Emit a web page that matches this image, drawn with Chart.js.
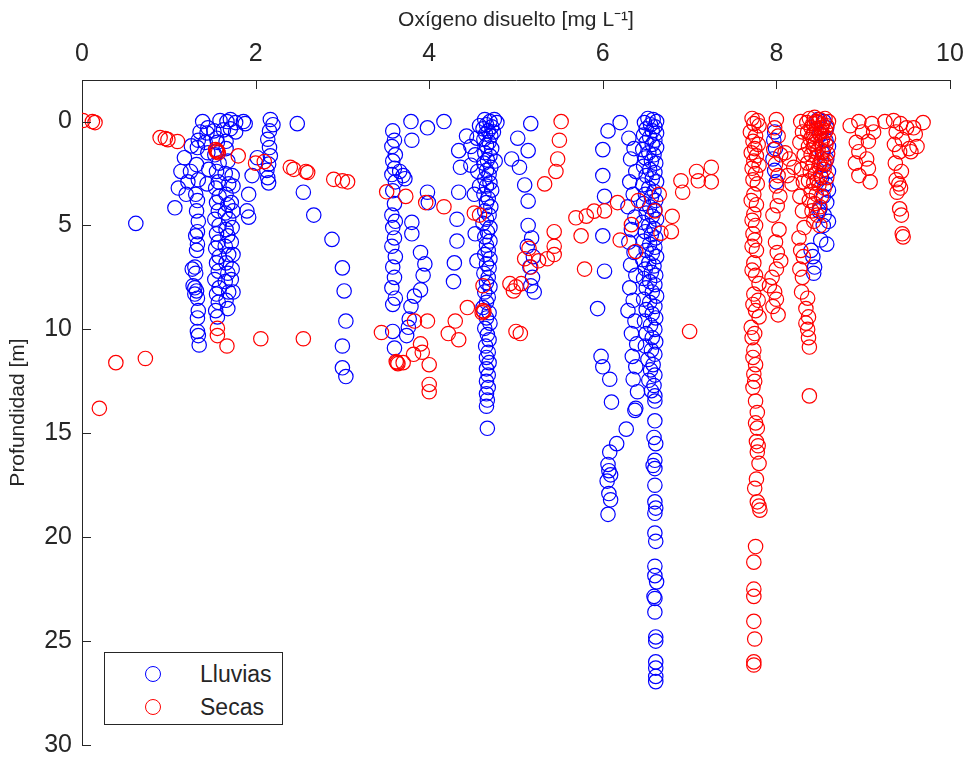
<!DOCTYPE html>
<html><head><meta charset="utf-8">
<script src="https://cdn.jsdelivr.net/npm/chart.js@4.4.1/dist/chart.umd.min.js"></script>
<style>
html,body{margin:0;padding:0;background:#fff;}
#wrap{position:relative;width:969px;height:761px;}
#legend{position:absolute;left:104px;top:652px;width:177px;height:71px;border:1px solid #262626;background:#fff;font-family:"Liberation Sans",Arial,sans-serif;font-size:23px;color:#262626;}
.item{position:absolute;left:0;width:177px;height:30px;}
.mk{position:absolute;left:40px;top:7px;width:14px;height:14px;border-radius:50%;border:1.3px solid;}
.lb{position:absolute;left:95px;top:2px;white-space:nowrap;line-height:26px;}
</style></head>
<body>
<div id="wrap">
<canvas id="c" width="969" height="761"></canvas>
<div id="legend">
 <div class="item" style="top:6px"><span class="mk" style="border-color:#0000ff"></span><span class="lb">Lluvias</span></div>
 <div class="item" style="top:39px"><span class="mk" style="border-color:#ff0000"></span><span class="lb">Secas</span></div>
</div>
</div>
<script>
const xTicks=[0,2,4,6,8,10];
const yTicks=[0,5,10,15,20,25,30];
const xTitle='Oxígeno disuelto [mg L⁻¹]';
const yTitle='Profundidad [m]';
const seriesNames=['Lluvias','Secas'];

// Lluvias (blue) [oxígeno, profundidad]
const lluviasGrupo1=[[0.62,4.9],[1.07,4.15],[1.11,3.2],[1.14,2.4],[1.18,1.74],[1.26,1.17],
[1.39,0.0],[1.45,0.3],[1.59,-0.05],[1.67,0.0],[1.71,-0.1],[1.77,0.05],[1.86,0.0],[1.88,0.1],
[1.36,0.5],[1.44,0.55],[1.52,0.45],[1.63,0.4],[1.71,0.35],[1.77,0.5],
[1.34,0.9],[1.42,1.0],[1.55,0.8],[1.66,0.95],[1.45,1.5],[1.46,2.3],[1.44,3.0],
[1.33,1.25],[1.32,2.07],[1.34,2.8],[1.31,3.5],[1.33,3.8],[1.32,4.3],[1.34,4.8],[1.33,5.3],[1.31,5.5],[1.33,5.9],[1.32,6.2],[1.30,7.0],[1.31,7.3],[1.30,8.0],[1.32,8.15],[1.33,8.5],[1.34,9.1],[1.33,9.45],[1.33,10.1],[1.34,10.3],[1.35,10.75],
[1.27,7.1],[1.28,7.9],[1.30,8.3],[1.22,2.9],[1.20,3.5],[1.25,2.4],
[1.56,1.0],[1.53,1.6],[1.58,2.0],[1.55,2.4],[1.57,2.9],[1.54,3.2],[1.58,3.6],[1.55,3.9],[1.57,4.3],[1.53,4.7],[1.58,5.0],[1.55,5.4],[1.57,5.8],[1.54,6.1],[1.58,6.5],[1.55,6.8],[1.57,7.2],[1.53,7.6],[1.58,8.0],[1.55,8.3],[1.57,8.7],[1.54,9.1],[1.56,9.4],
[1.66,1.3],[1.68,1.9],[1.65,2.5],[1.69,3.0],[1.66,3.5],[1.68,4.0],[1.65,4.4],[1.69,4.7],[1.66,5.2],[1.68,5.5],[1.65,6.0],[1.69,6.4],[1.66,6.8],[1.68,7.3],[1.65,7.7],[1.69,8.2],[1.66,8.6],[1.68,9.0],
[1.73,2.6],[1.74,3.1],[1.72,3.9],[1.74,4.3],[1.73,5.1],[1.72,5.8],[1.74,6.4],[1.73,7.1],[1.72,7.6],[1.74,8.2],
[2.17,-0.1],[2.20,0.15],[2.16,0.45],[2.14,0.85],[2.16,1.25],[2.17,1.65],[2.15,2.05],[2.13,2.35],[2.14,2.7],[2.15,2.95],
[2.02,1.74],[1.96,2.6],[1.92,3.5],[1.90,4.3],[1.92,4.6],[2.48,0.1],[2.55,3.4],[2.67,4.5],[2.88,5.67],[3.00,7.04],[3.02,8.15],[3.04,9.6],[3.00,10.8],[3.00,11.85],[3.04,12.27]];

const lluviasGrupo2=[[3.58,0.45],[3.60,0.9],[3.57,1.2],[3.61,1.6],[3.58,1.9],[3.60,2.25],[3.57,2.55],[3.61,2.9],[3.58,3.33],[3.60,3.95],[3.57,4.5],[3.61,4.8],[3.58,5.1],[3.60,5.6],[3.57,6.0],[3.61,6.5],[3.58,7.0],[3.60,7.5],[3.57,8.0],[3.61,8.5],[3.58,8.8],[3.58,10.1],[3.60,10.9],
[3.70,2.6],[3.66,2.4],[3.72,2.75],[3.79,0.0],[3.80,0.9],[3.98,0.3],[4.17,0.0],[3.98,3.4],[3.99,3.9],
[3.80,4.85],[3.80,5.4],[3.90,6.3],[3.95,6.85],[3.93,7.4],[3.90,8.1],[3.83,8.4],[3.79,8.9],[3.77,9.5],[3.76,9.9],[3.74,10.3],
[4.34,1.4],[4.36,2.2],[4.34,3.4],[4.32,4.7],[4.32,5.75],[4.29,6.8],[4.28,7.7],
[4.43,0.7],[4.48,1.2],[4.48,2.1],[4.52,3.5],[4.53,5.4],[4.55,6.7],
[4.64,-0.1],[4.70,0.0],[4.66,0.15],[4.72,0.25],[4.62,0.35],[4.68,0.45],[4.65,0.6],[4.71,0.7],[4.63,0.85],[4.69,1.0],[4.66,1.15],[4.72,1.3],[4.64,1.5],[4.70,1.65],[4.67,1.85],[4.63,2.0],[4.71,2.2],[4.66,2.35],[4.69,2.55],[4.64,2.75],[4.70,2.95],[4.66,3.1],[4.72,3.3],[4.63,3.5],[4.68,3.7],[4.66,3.9],[4.71,4.1],[4.64,4.3],[4.69,4.5],[4.66,4.7],[4.62,4.9],[4.70,5.1],[4.67,5.3],[4.64,5.55],[4.70,5.75],[4.66,5.95],[4.68,6.2],[4.64,6.4],[4.70,6.6],[4.66,6.85],[4.69,7.05],[4.63,7.3],[4.68,7.5],[4.66,7.75],[4.70,7.95],[4.64,8.2],[4.68,8.45],[4.66,8.7],[4.62,8.95],[4.69,9.2],[4.66,9.45],[4.70,9.7],[4.64,9.95],[4.67,10.25],[4.69,10.5],[4.65,10.8],[4.68,11.1],[4.66,11.35],[4.69,11.6],[4.66,11.9],[4.68,12.2],[4.66,12.5],[4.68,12.8],[4.66,13.1],[4.67,13.4],[4.66,13.7],[4.67,14.76],
[4.58,0.2],[4.75,-0.1],[4.78,0.05],[4.55,0.8],[4.53,1.6],[4.56,2.4],[4.58,3.1],[4.74,0.5],[4.76,1.9],
[5.02,0.8],[5.17,0.1],[5.14,1.4],[4.95,1.8],[5.04,2.2],[5.10,3.05],[5.14,3.83],[5.14,5.0],[5.13,6.0],[5.16,7.0],[5.17,7.9],[5.18,5.6],[5.20,6.5],[5.19,7.5],[5.21,8.2]];

const lluviasGrupo3=[[6.20,0.05],[6.06,0.45],[6.00,1.35],[6.00,2.6],[6.02,3.6],[6.00,5.5],[6.02,7.2],[5.94,9.0],[5.98,11.3],[6.00,11.8],[6.08,12.4],[6.10,13.5],[6.27,14.8],
[6.38,13.8],[6.37,13.9],[6.16,15.5],[6.08,15.9],[6.06,16.5],[6.07,16.8],[6.09,17.0],[6.05,17.3],[6.07,17.9],[6.09,18.2],[6.06,18.9],
[6.30,0.8],[6.36,1.3],[6.32,1.8],[6.38,2.4],[6.31,2.9],[6.35,3.5],[6.29,4.1],[6.37,4.6],[6.33,5.2],[6.30,5.8],[6.36,6.3],[6.32,6.9],[6.38,7.4],[6.31,8.0],[6.35,8.6],[6.29,9.1],[6.37,9.6],[6.33,10.2],[6.39,10.7],[6.34,11.3],[6.38,11.8],[6.35,12.4],[6.40,13.0],
[6.52,-0.15],[6.58,-0.1],[6.62,0.0],[6.48,0.05],[6.55,0.15],[6.60,0.25],[6.50,0.35],[6.57,0.45],[6.62,0.55],[6.47,0.65],[6.54,0.75],[6.60,0.9],[6.50,1.0],[6.57,1.1],[6.62,1.25],[6.46,1.35],[6.53,1.5],[6.59,1.6],[6.49,1.75],[6.56,1.9],[6.61,2.0],[6.47,2.15],[6.54,2.3],[6.60,2.45],[6.50,2.6],[6.57,2.75],[6.62,2.9],[6.46,3.05],[6.53,3.2],[6.59,3.35],[6.49,3.5],[6.56,3.65],[6.61,3.8],[6.47,3.95],[6.54,4.1],[6.60,4.25],[6.50,4.4],[6.57,4.55],[6.62,4.7],[6.46,4.85],[6.53,5.0],[6.59,5.15],[6.49,5.3],[6.56,5.45],[6.61,5.6],[6.47,5.75],[6.54,5.9],[6.60,6.05],[6.50,6.2],[6.57,6.35],[6.62,6.5],[6.46,6.65],[6.53,6.8],[6.59,6.95],[6.49,7.1],[6.56,7.25],[6.61,7.4],[6.47,7.55],[6.54,7.7],[6.60,7.85],[6.50,8.0],[6.57,8.2],[6.62,8.4],[6.47,8.55],[6.54,8.7],[6.60,8.9],[6.50,9.05],[6.57,9.25],[6.61,9.45],[6.48,9.6],[6.55,9.8],[6.60,10.0],[6.50,10.2],[6.57,10.4],[6.61,10.6],[6.49,10.8],[6.56,11.0],[6.60,11.2],[6.52,11.45],[6.58,11.7],[6.55,11.95],[6.60,12.2],[6.53,12.45],[6.59,12.7],[6.56,12.95],[6.60,13.2],
[6.60,13.45],[6.60,14.4],[6.59,15.2],[6.61,15.5],[6.60,16.3],[6.58,16.55],[6.60,16.7],[6.60,17.5],[6.60,18.3],[6.61,18.6],[6.60,18.85],[6.60,19.8],[6.61,20.2],[6.60,21.4],[6.60,21.85],[6.62,22.15],[6.59,22.85],[6.60,22.95],[6.60,23.6],[6.61,24.8],[6.61,25.0],[6.61,26.0],[6.61,26.3],[6.61,26.7],[6.61,26.95]];

const lluviasGrupo4=[[7.98,0.5],[7.97,0.9],[7.99,1.3],[7.96,1.8],[7.98,2.35],[8.00,2.9],
[8.48,-0.1],[8.55,0.0],[8.58,0.3],[8.50,0.6],[8.57,0.9],[8.60,1.2],[8.53,1.5],[8.58,1.8],[8.55,2.1],[8.60,2.4],[8.52,2.7],[8.57,3.0],[8.60,3.3],[8.54,3.6],[8.58,3.9],[8.50,4.2],[8.55,4.5],[8.60,4.8],[8.49,4.3],[8.54,5.0],[8.51,5.7],[8.58,5.9],[8.40,6.2],[8.42,6.5],[8.44,7.0],[8.43,7.3]];

// Secas (red)
const secasGrupo1=[[0.01,-0.05],[0.12,0.0],[0.15,0.05],[0.90,0.77],[0.96,0.82],[0.99,0.87],[1.10,0.96],
[1.54,1.35],[1.56,1.4],[1.57,1.5],[1.55,1.45],[1.80,1.65],[2.10,1.93],[2.00,2.0],
[2.40,2.2],[2.44,2.3],[2.58,2.4],[2.60,2.45],[2.90,2.78],[3.00,2.85],[3.06,2.9],
[1.56,9.95],[1.56,10.3],[1.67,10.8],[2.06,10.45],[2.55,10.45],[0.39,11.6],[0.73,11.4],[0.20,13.8]];

const secasGrupo2=[[3.51,3.38],[3.73,3.6],[3.96,3.9],[4.17,4.1],[4.52,4.4],[4.58,4.5],
[3.45,10.15],[3.63,11.6],[3.64,11.65],[3.62,11.55],[3.83,9.6],[3.98,9.6],[4.30,9.6],[4.22,10.2],[4.34,10.5],[3.90,10.7],[3.82,11.2],[3.70,11.6],[3.92,11.1],[4.00,11.7],[4.00,12.65],[4.00,13.0],
[4.44,8.95],[4.62,9.1],[4.63,9.15],[4.61,9.2],[4.62,7.9],[5.00,10.1],[5.05,10.2],[4.93,7.8],[4.97,8.15],[5.00,7.95],[5.06,7.8],
[5.17,7.0],[5.26,6.7],[5.36,6.6],[5.44,6.4],[5.44,6.0],[5.44,5.3],[5.33,3.0],[5.46,2.4],[5.48,1.8],[5.50,0.9],[5.52,0.0],[5.15,6.1],[5.10,6.6]];

const secasGrupo3=[[5.69,4.63],[5.81,4.55],[5.90,4.31],[5.75,5.5],[5.79,7.1],[6.02,4.3],[6.17,3.9],[6.20,5.7],[6.33,4.96],[6.38,6.25],[6.41,3.8],[6.60,4.3],[6.65,3.5],[6.67,5.37],[6.79,5.3],[6.80,4.56],[6.90,2.85],[6.92,3.4],[7.08,2.4],[7.10,2.85],[7.25,2.2],[7.25,2.9],[7.00,10.1]];

const secasGrupo4=[[7.72,-0.15],[7.78,-0.05],[7.74,0.1],[7.80,0.2],[7.70,0.5],[7.76,0.7],[7.73,0.95],[7.79,1.1],[7.75,1.3],[7.71,1.5],[7.77,1.65],[7.74,1.9],[7.80,2.1],[7.72,2.25],[7.76,2.5],[7.73,2.8],[7.78,3.0],[7.74,3.5],[7.71,3.8],[7.77,4.0],[7.74,4.45],[7.72,4.75],[7.76,5.0],[7.73,5.4],[7.75,5.7],[7.72,6.0],[7.77,6.2],[7.74,6.8],[7.72,7.15],[7.76,7.4],[7.80,7.8],[7.74,8.3],[7.79,8.6],[7.73,8.8],[7.76,9.1],[7.80,9.4],[7.71,9.9],[7.75,10.2],[7.72,10.4],[7.74,11.0],[7.73,11.35],[7.76,11.7],[7.74,12.15],[7.75,12.5],[7.73,12.8],
[7.76,13.45],[7.78,14.0],[7.76,14.5],[7.78,14.75],[7.77,15.4],[7.79,15.6],[7.78,15.9],[7.80,16.45],[7.77,17.2],[7.75,17.65],[7.78,18.3],[7.80,18.5],[7.81,18.7],[7.76,20.45],[7.74,21.2],[7.74,22.5],[7.74,22.85],[7.74,24.05],[7.75,24.9],[7.74,26.0],[7.74,26.15],
[8.00,-0.1],[7.98,0.3],[8.02,0.7],[7.97,1.35],[8.05,1.6],[7.99,2.05],[8.02,2.6],[8.00,3.1],[8.04,3.6],[8.01,4.05],[7.96,4.5],[8.03,5.2],[7.99,5.8],[8.01,6.3],[8.05,6.7],[8.00,7.1],[7.95,7.5],[7.92,7.9],[7.98,8.2],[8.00,8.55],[7.96,8.9],[8.02,9.3]];

const secasGrupo5=[[8.15,1.8],[8.20,2.2],[8.13,2.6],[8.18,3.0],[8.10,1.5],
[8.28,0.0],[8.30,0.5],[8.27,1.0],[8.32,1.6],[8.29,2.3],[8.31,2.9],[8.27,3.6],[8.30,4.3],[8.32,5.1],[8.26,5.6],[8.28,6.2],[8.31,6.5],[8.27,7.1],[8.30,7.5],[8.29,8.2],[8.36,8.5],[8.34,9.0],[8.37,9.4],[8.34,9.7],[8.36,10.0],[8.37,10.4],[8.38,10.85],[8.38,13.2],
[8.38,-0.15],[8.44,-0.2],[8.50,-0.1],[8.56,-0.15],[8.60,0.0],[8.35,0.05],[8.42,0.1],[8.48,0.05],[8.53,0.15],[8.58,0.2],[8.40,0.3],[8.46,0.35],[8.52,0.3],[8.57,0.45],[8.36,0.5],[8.43,0.6],[8.49,0.55],[8.55,0.7],[8.60,0.8],[8.39,0.85],[8.45,0.95],[8.51,1.0],[8.57,1.1],[8.37,1.2],[8.43,1.3],[8.48,1.35],[8.54,1.45],[8.59,1.55],[8.40,1.6],[8.46,1.7],[8.52,1.8],[8.57,1.9],[8.36,2.0],[8.42,2.1],[8.49,2.15],[8.55,2.3],[8.39,2.4],[8.45,2.5],[8.51,2.6],[8.58,2.7],[8.37,2.85],[8.43,2.95],[8.49,3.05],[8.55,3.2],[8.40,3.35],[8.46,3.5],[8.52,3.6],[8.38,3.8],[8.44,3.95],[8.50,4.1],[8.41,4.3],[8.47,4.5],[8.43,4.8],[8.50,5.0],[8.46,0.0],[8.52,0.5],[8.44,1.1],[8.50,2.0],[8.47,2.8],[8.53,0.9],[8.41,0.7],[8.55,2.0]];

const secasGrupo6=[[8.85,0.2],[8.95,0.0],[9.10,0.1],[9.25,0.0],[8.99,0.5],[9.06,0.95],[8.95,1.45],[8.91,2.0],[9.06,2.25],[8.95,2.6],[9.08,2.9],[9.04,1.8],[9.12,0.5],[8.92,1.0],
[9.35,-0.05],[9.43,0.1],[9.38,0.5],[9.45,0.85],[9.36,1.1],[9.42,1.45],[9.37,2.0],[9.44,2.4],[9.38,2.8],[9.41,3.0],[9.43,3.2],[9.39,3.4],[9.42,4.2],[9.44,4.5],[9.45,5.4],[9.46,5.55],[9.50,0.3],[9.53,1.3],[9.55,1.45],
[9.69,0.05],[9.60,0.6],[9.58,0.3],[9.62,1.2]];

const lluvias=[].concat(lluviasGrupo1,lluviasGrupo2,lluviasGrupo3,lluviasGrupo4);
const secas=[].concat(secasGrupo1,secasGrupo2,secasGrupo3,secasGrupo4,secasGrupo5,secasGrupo6);
const toXY=a=>a.map(p=>({x:p[0],y:p[1]}));

const FONT='"Liberation Sans", Arial, sans-serif';
const AX='#262626';

const inwardTicks={
  id:'inwardTicks',
  afterDraw(chart){
    const {ctx,chartArea,scales}=chart;
    ctx.save();
    ctx.strokeStyle=AX;ctx.lineWidth=1;
    ctx.beginPath();
    xTicks.forEach(v=>{const p=Math.round(scales.x.getPixelForValue(v))+0.5;ctx.moveTo(p,chartArea.top);ctx.lineTo(p,chartArea.top+9);});
    yTicks.forEach(v=>{const p=Math.round(scales.y.getPixelForValue(v))+0.5;ctx.moveTo(chartArea.left,p);ctx.lineTo(chartArea.left+9,p);});
    ctx.stroke();
    ctx.restore();
  }
};

new Chart(document.getElementById('c'),{
  type:'scatter',
  data:{datasets:[
    {label:seriesNames[0],data:toXY(lluvias),order:2,pointStyle:'circle',pointRadius:7.2,pointHoverRadius:7.2,borderColor:'#0000ff',backgroundColor:'rgba(0,0,0,0)',pointBorderWidth:1.2},
    {label:seriesNames[1],data:toXY(secas),order:1,pointStyle:'circle',pointRadius:7.2,pointHoverRadius:7.2,borderColor:'#ff0000',backgroundColor:'rgba(0,0,0,0)',pointBorderWidth:1.2}
  ]},
  options:{
    responsive:false,animation:false,devicePixelRatio:1,
    layout:{padding:{left:0,top:0,right:19,bottom:16}},
    plugins:{legend:{display:false},tooltip:{enabled:false}},
    events:[],
    scales:{
      x:{type:'linear',position:'top',min:0,max:10,
        afterBuildTicks:s=>{s.ticks=xTicks.map(v=>({value:v}));},
        afterFit:s=>{s.height=80;s.paddingLeft=0;s.paddingRight=0;s.paddingTop=0;s.paddingBottom=0;},
        grid:{display:false,drawTicks:false},
        border:{display:true,color:AX,width:1},
        ticks:{color:AX,font:{family:FONT,size:25},padding:11,maxRotation:0},
        title:{display:true,text:xTitle,color:AX,font:{family:FONT,size:21},padding:{top:8,bottom:0}}
      },
      y:{type:'linear',reverse:true,min:-2,max:30,
        afterBuildTicks:s=>{s.ticks=yTicks.map(v=>({value:v}));},
        afterFit:s=>{s.width=82;s.paddingLeft=0;s.paddingRight=0;s.paddingTop=0;s.paddingBottom=0;},
        grid:{display:false,drawTicks:false},
        border:{display:true,color:AX,width:1},
        ticks:{color:AX,font:{family:FONT,size:25},padding:10},
        title:{display:true,text:yTitle,color:AX,font:{family:FONT,size:21},padding:{top:6,bottom:0}}
      }
    }
  },
  plugins:[inwardTicks]
});
</script>
</body></html>
